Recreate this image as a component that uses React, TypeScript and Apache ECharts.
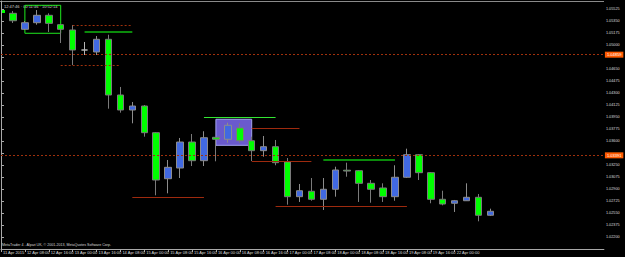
import React, { useEffect, useRef } from "react";
import * as echarts from "echarts";

// ---- data ----
const xLabels = [
  "11 Apr 2015", "12 Apr 08:00", "12 Apr 16:00", "13 Apr 00:00", "13 Apr 16:00",
  "14 Apr 08:00", "15 Apr 00:00", "15 Apr 08:00", "15 Apr 16:00", "16 Apr 00:00",
  "16 Apr 08:00", "16 Apr 16:00", "17 Apr 00:00", "17 Apr 08:00", "18 Apr 00:00",
  "18 Apr 08:00", "18 Apr 16:00", "19 Apr 08:00", "19 Apr 16:00", "22 Apr 00:00",
  "22 Apr 08:00",
];

const opens = [
  1.05462, 1.05229, 1.05325, 1.05433, 1.05296, 1.05219, 1.04927, 1.04898, 1.05083, 1.04271,
  1.04052, 1.0411, 1.03721, 1.0305, 1.03206, 1.03585, 1.03313, 1.03654, 1.03625, 1.0379,
  1.03604, 1.03459, 1.03517, 1.03294, 1.02788, 1.02867, 1.0275, 1.02896, 1.03174, 1.03167,
  1.02983, 1.02915, 1.02788, 1.03071, 1.034, 1.03138, 1.0275, 1.02692, 1.02729, 1.02779,
  1.02517,
];
const closes = [
  1.05354, 1.05325, 1.05433, 1.05316, 1.05229, 1.04927, 1.04927, 1.05083, 1.04271, 1.04052,
  1.0411, 1.03721, 1.03031, 1.03216, 1.03585, 1.03313, 1.03648, 1.03625, 1.03829, 1.03604,
  1.03459, 1.03517, 1.03284, 1.02788, 1.02875, 1.0275, 1.02896, 1.03177, 1.03162, 1.02983,
  1.02896, 1.02788, 1.03071, 1.034, 1.03138, 1.0275, 1.02681, 1.02729, 1.02779, 1.02517,
  1.02575,
];
const lows = [
  1.05321, 1.05219, 1.05296, 1.0519, 1.05029, 1.04708, 1.04854, 1.04854, 1.04071, 1.04013,
  1.03858, 1.03663, 1.02808, 1.02837, 1.0306, 1.03235, 1.03235, 1.03304, 1.03575, 1.03575,
  1.03308, 1.03371, 1.03246, 1.02671, 1.02711, 1.02729, 1.02594, 1.02788, 1.03079, 1.02711,
  1.027, 1.02711, 1.02729, 1.0306, 1.03031, 1.02692, 1.02662, 1.02565, 1.02725, 1.02429,
  1.02506,
];
const highs = [
  1.05496, 1.0535, 1.0551, 1.05462, 1.05306, 1.05292, 1.05044, 1.05131, 1.0515, 1.04388,
  1.04169, 1.04125, 1.03731, 1.03323, 1.03644, 1.03702, 1.03742, 1.03658, 1.03867, 1.03858,
  1.03663, 1.03673, 1.03615, 1.03352, 1.02973, 1.0306, 1.0306, 1.03225, 1.03284, 1.03177,
  1.03031, 1.02983, 1.03246, 1.03488, 1.0341, 1.03148, 1.02875, 1.0274, 1.02983, 1.02827,
  1.02613,
];

// price axis
const yMin = 1.02025;
const yMax = 1.0564167;
const yStep = 0.00175;

// bar-index axis (bar n sits at n; labels every 2 bars from 0)
const xMin = 0;
const xMax = 50.5;
const xStep = 2;

// annotation objects (bar index from/to, price)
const priceLevels = [1.04859, 1.03391];
const dottedSegs = [[6, 11, 1.05287], [5, 10, 1.04704]];
const redSegs = [[21, 25, 1.03785], [21, 26, 1.03304], [11, 17, 1.02779], [23, 34, 1.02652]];
const darkGreenSegs = [[7, 11, 1.0519], [27, 33, 1.03323]];
const limeSegs = [[17, 23, 1.03946]];
const outlineBoxes = [[2, 5, 1.05579, 1.05171]];
const filledBoxes = [[18, 21, 1.03917, 1.03537]];

const headerText = "12:47:46 · 00:11:46 · 10:52:14";
const footerText = "MetaTrader 4 - Alpari UK, © 2001-2013, MetaQuotes Software Corp.";

const FONT = "Liberation Sans, Arial, sans-serif";

export default function App() {
  const ref = useRef<HTMLDivElement>(null);

  useEffect(() => {
    if (!ref.current) return;
    const chart = echarts.init(ref.current, null, { renderer: "svg" });

    const candleData = opens.map((o, i) => [i + 1, o, closes[i], lows[i], highs[i]]);
    const labelTicks = xLabels.map((_, k) => xMin + k * xStep);

    const seg = (s: number[], lineStyle: any) => [
      { coord: [s[0], s[2]], lineStyle },
      { coord: [s[1], s[2]] },
    ];

    const levelLines: any[] = priceLevels.map((p) => [
      {
        coord: [xMin, p],
        lineStyle: { color: "#a0300c", width: 1, type: [2, 2] },
        label: {
          show: true,
          position: "end",
          distance: 1,
          formatter: () => p.toFixed(5),
          backgroundColor: "#ff5a00",
          color: "#ffffff",
          fontSize: 4,
          fontFamily: FONT,
          padding: [1, 2, 1, 2],
        },
      },
      { coord: [xMax, p] },
    ]);

    const markLineData: any[] = [
      ...levelLines,
      ...dottedSegs.map((s) => seg(s, { color: "#a0300c", width: 1, type: [2, 2] })),
      ...redSegs.map((s) => seg(s, { color: "#9e2a0e", width: 1, type: "solid" })),
      ...darkGreenSegs.map((s) => seg(s, { color: "#0b8a0b", width: 2, type: "solid" })),
      ...limeSegs.map((s) => seg(s, { color: "#33e633", width: 1, type: "solid" })),
    ];

    const markAreaData: any[] = [
      ...outlineBoxes.map((b) => [
        {
          coord: [b[0], b[2]],
          itemStyle: { color: "rgba(0,0,0,0)", borderColor: "#1ee81e", borderWidth: 1 },
        },
        { coord: [b[1], b[3]] },
      ]),
      ...filledBoxes.map((b) => [
        {
          coord: [b[0], b[2]],
          itemStyle: { color: "#6a5acd", borderColor: "#a4a4f2", borderWidth: 1 },
        },
        { coord: [b[1], b[3]] },
      ]),
    ];

    const coveredByLevel = (v: number) =>
      priceLevels.some((p) => Math.abs(p - v) < yStep * 0.4);

    chart.setOption({
      animation: false,
      backgroundColor: "#000000",
      textStyle: { fontFamily: FONT },
      grid: { left: 0.67, right: 21.1, top: 1, bottom: 8, containLabel: false },
      xAxis: {
        type: "value",
        min: xMin,
        max: xMax,
        interval: xStep,
        axisLine: { show: true, lineStyle: { color: "#a8a8a8", width: 1 } },
        axisTick: {
          show: true,
          length: 3,
          customValues: labelTicks,
          lineStyle: { color: "#a8a8a8" },
        },
        axisLabel: {
          show: true,
          customValues: labelTicks,
          showMaxLabel: false,
          formatter: (v: number) => {
            const k = Math.round((v - xMin) / xStep);
            return xLabels[k] ?? "";
          },
          align: "left",
          color: "#dddddd",
          fontSize: 4,
          fontFamily: FONT,
          margin: 1,
          padding: [0, 0, 0, 2],
        },
        splitLine: { show: false },
      },
      yAxis: {
        type: "value",
        position: "right",
        min: yMin,
        max: yMax,
        interval: yStep,
        axisLine: { show: true, lineStyle: { color: "#a8a8a8", width: 1 } },
        axisTick: { show: true, length: 3, lineStyle: { color: "#a8a8a8" } },
        axisLabel: {
          show: true,
          showMinLabel: false,
          showMaxLabel: false,
          formatter: (v: number) => (coveredByLevel(v) ? "" : v.toFixed(5)),
          color: "#dddddd",
          fontSize: 3.8,
          fontFamily: FONT,
          margin: 2,
        },
        splitLine: { show: false },
      },
      series: [
        {
          type: "candlestick",
          data: candleData,
          encode: { x: 0, y: [1, 2, 3, 4] },
          barWidth: 7,
          itemStyle: {
            color: "#4169e1",
            color0: "#00ff00",
            borderColor: "#8c8c8c",
            borderColor0: "#7a7a7a",
            borderColorDoji: "#b4b4b4",
            borderWidth: 1,
          },
          markLine: {
            silent: true,
            symbol: ["none", "none"],
            animation: false,
            label: { show: false },
            data: markLineData,
          },
          markArea: {
            silent: true,
            animation: false,
            label: { show: false },
            data: markAreaData,
          },
        },
      ],
      graphic: [
        {
          type: "line",
          shape: { x1: 0, y1: 1.5, x2: 604, y2: 1.5 },
          style: { stroke: "#8a8a8a", lineWidth: 1 },
        },
        {
          type: "line",
          shape: { x1: 1.5, y1: 1, x2: 1.5, y2: 249 },
          style: { stroke: "#8a8a8a", lineWidth: 1 },
        },
        {
          type: "rect",
          shape: { x: 2, y: 10, width: 3, height: 3 },
          style: { fill: "#00ff00" },
        },
        {
          type: "text",
          left: 4,
          top: 4.5,
          style: { text: headerText, fill: "#d8d8d8", fontSize: 4, fontFamily: FONT },
        },
        {
          type: "text",
          left: 2,
          top: 243,
          style: { text: footerText, fill: "#d8d8d8", fontSize: 3.6, fontFamily: FONT },
        },
      ],
    });

    return () => chart.dispose();
  }, []);

  return (
    <div
      ref={ref}
      style={{ position: "fixed", left: 0, top: 0, width: 625, height: 257 }}
    />
  );
}
